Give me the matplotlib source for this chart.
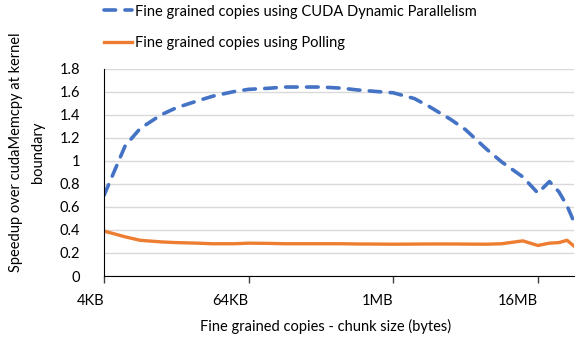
import matplotlib
matplotlib.use("Agg")
import matplotlib.pyplot as plt
from matplotlib.transforms import ScaledTranslation

plt.rcParams['font.family'] = ['Lato', 'DejaVu Sans']

# chunk sizes in KB
sizes_kb = [4, 6, 8, 12, 16, 24, 32, 48, 64, 96, 128, 192, 256, 384, 512, 768,
            1024, 1536, 2048, 3072, 4096, 6144, 8192, 12288, 16384, 20480,
            24576, 28672, 32768]
cdp = [0.70, 1.13, 1.28, 1.40, 1.46, 1.52, 1.56, 1.60, 1.62, 1.63, 1.64, 1.64,
       1.64, 1.63, 1.615, 1.60, 1.59, 1.54, 1.47, 1.36, 1.27, 1.10, 0.99,
       0.86, 0.72, 0.82, 0.73, 0.61, 0.47]
polling = [0.39, 0.34, 0.31, 0.296, 0.29, 0.285, 0.28, 0.28, 0.285, 0.283,
           0.28, 0.28, 0.28, 0.28, 0.278, 0.277, 0.276, 0.277, 0.278, 0.278,
           0.277, 0.276, 0.28, 0.305, 0.265, 0.285, 0.29, 0.31, 0.26]
tick_kb = [4, 64, 1024, 16384]
tick_labels = ['4KB', '64KB', '1MB', '16MB']

x = [s * 1024 for s in sizes_kb]

fig = plt.figure(figsize=(5.76, 3.43), dpi=100)
ax = fig.add_axes([0.1806, 0.1953, 0.8159, 0.6047])

ax.plot(x, cdp, color='#4472C4', lw=2.6, ls=(0, (3.2, 2.6)),
        dash_capstyle='round', label='Fine grained copies using CUDA Dynamic Parallelism')
ax.plot(x, polling, color='#ED7D31', lw=2.4,
        label='Fine grained copies using Polling')

ax.set_xscale('log', base=2)
ax.set_xlim(4 * 1024, 32768 * 1024)
ax.set_ylim(0, 1.8)
ax.set_yticks([i / 10 for i in range(0, 19, 2)])
ax.set_yticklabels(['0', '0.2', '0.4', '0.6', '0.8', '1', '1.2', '1.4', '1.6', '1.8'])
ax.set_xticks([t * 1024 for t in tick_kb])
ax.set_xticklabels(tick_labels, ha='right')
shift = ScaledTranslation(-5 / 100, 0, fig.dpi_scale_trans)
for lbl in ax.get_xticklabels():
    lbl.set_transform(lbl.get_transform() + shift)
ax.minorticks_off()
ax.tick_params(axis='y', length=0, pad=17, labelsize=10.5)
ax.tick_params(axis='x', length=5, width=1, color='#404040', pad=8, labelsize=10.5)
ax.grid(axis='y', color='#d9d9d9', lw=1)
ax.set_axisbelow(True)
for s in ['top', 'right']:
    ax.spines[s].set_visible(False)
ax.spines['left'].set_color('black')
ax.spines['bottom'].set_color('black')

fig.text(0.566, 0.035, 'Fine grained copies - chunk size (bytes)', ha='center', fontsize=10.5)
fig.text(0.047, 0.557, 'Speedup over cudaMemcpy at kernel\nboundary', rotation=90,
         ha='center', va='center', fontsize=10.5, linespacing=1.75)

fig.legend(loc='upper left', bbox_to_anchor=(0.158, 1.025), frameon=False,
           fontsize=10.5, handlelength=1.9, labelspacing=1.2, handletextpad=0.25)

fig.savefig('out.png', dpi=100)
